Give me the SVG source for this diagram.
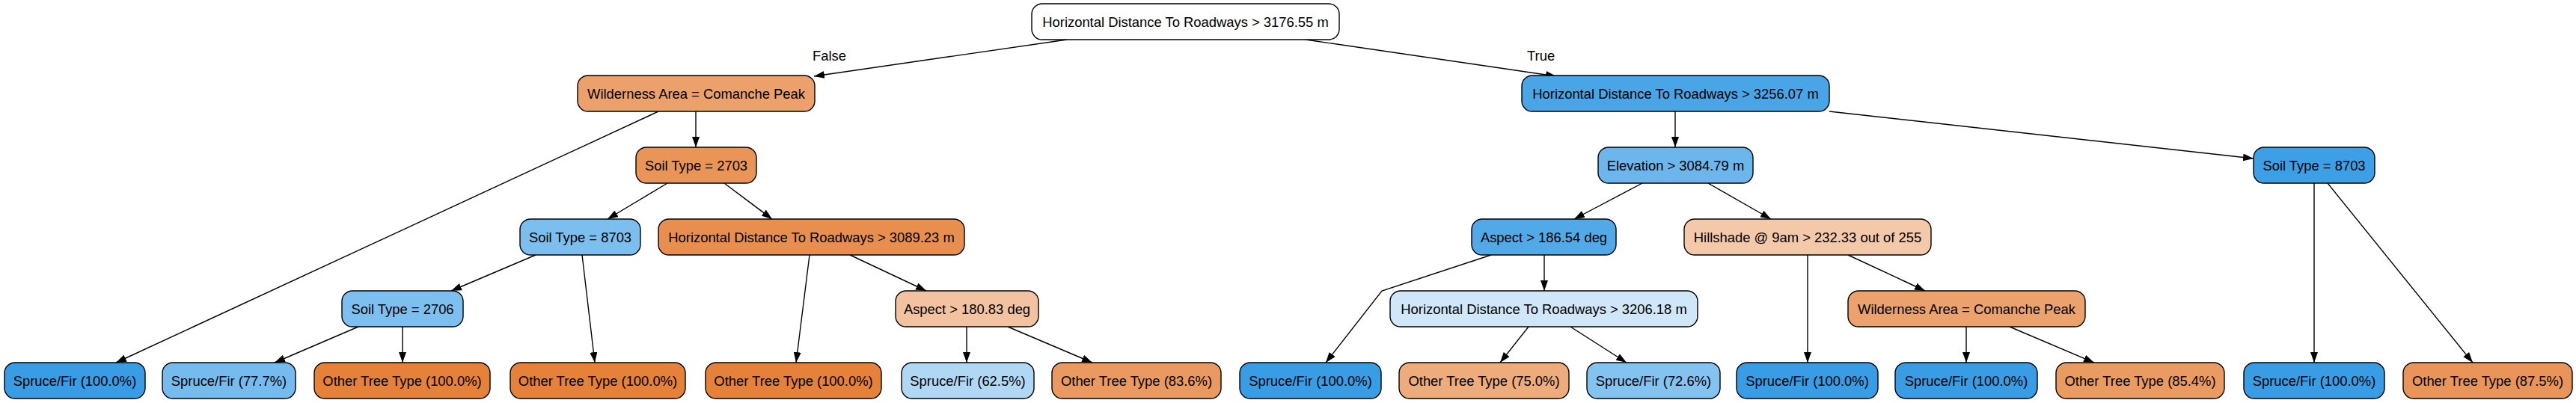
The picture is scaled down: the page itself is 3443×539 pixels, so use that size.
<svg xmlns="http://www.w3.org/2000/svg" width="3443" height="539" viewBox="0 0 3443 539">
<style>
.n rect{stroke:#000;stroke-width:1.4}
.n text{font-family:"Liberation Sans",Arial,Helvetica,sans-serif;font-size:18.4px;fill:#000;text-anchor:middle}
.lbl{font-family:"Liberation Sans",Arial,Helvetica,sans-serif;font-size:18.4px;fill:#000}
#edges line,#edges polyline{stroke:#000;stroke-width:1.4;fill:none;marker-end:url(#ah)}
</style>
<defs>
<marker id="ah" viewBox="0 0 14 10" refX="14" refY="5" markerWidth="14" markerHeight="10" markerUnits="userSpaceOnUse" orient="auto">
<path d="M0,0 L14,5 L0,10 z" fill="#000"/>
</marker>
</defs>
<rect width="3443" height="539" fill="#fff"/>
<g id="edges">
<line x1="1426" y1="53" x2="1088" y2="102"/>
<line x1="1745" y1="53" x2="2080" y2="102"/>
<line x1="880" y1="149" x2="155" y2="485"/>
<line x1="930" y1="149" x2="930" y2="197"/>
<line x1="892" y1="245" x2="812" y2="293"/>
<line x1="968" y1="245" x2="1032" y2="293"/>
<line x1="716" y1="341" x2="603" y2="389"/>
<line x1="778" y1="341" x2="795" y2="485"/>
<line x1="479" y1="437" x2="367" y2="485"/>
<line x1="538" y1="437" x2="538" y2="485"/>
<line x1="1082" y1="341" x2="1064" y2="485"/>
<line x1="1136" y1="341" x2="1238" y2="389"/>
<line x1="1292" y1="437" x2="1292" y2="485"/>
<line x1="1347" y1="437" x2="1460" y2="485"/>
<line x1="2239" y1="149" x2="2239" y2="197"/>
<line x1="2445" y1="149" x2="3012" y2="212"/>
<line x1="2195" y1="245" x2="2104" y2="293"/>
<line x1="2283" y1="245" x2="2367" y2="293"/>
<polyline points="1993,341 1847,389 1772,485"/>
<line x1="2064" y1="341" x2="2064" y2="389"/>
<line x1="2043" y1="437" x2="2005" y2="485"/>
<line x1="2099" y1="437" x2="2174" y2="485"/>
<line x1="2416" y1="341" x2="2416" y2="485"/>
<line x1="2470" y1="341" x2="2573" y2="389"/>
<line x1="2628" y1="437" x2="2628" y2="485"/>
<line x1="2686" y1="437" x2="2799" y2="485"/>
<line x1="3093" y1="245" x2="3093" y2="485"/>
<line x1="3111" y1="245" x2="3305" y2="485"/>
<text class="lbl" x="1086" y="81">False</text>
<text class="lbl" x="2041" y="81">True</text>
</g>
<g id="root" class="n"><rect x="1379" y="5" width="411" height="48" rx="14" fill="#ffffff"/><text x="1584.5" y="35.5">Horizontal Distance To Roadways &gt; 3176.55 m</text></g>
<g id="n1" class="n"><rect x="772" y="101" width="317" height="48" rx="14" fill="#eca16c"/><text x="930.5" y="131.5">Wilderness Area = Comanche Peak</text></g>
<g id="n2" class="n"><rect x="2034" y="101" width="411" height="48" rx="14" fill="#4aa5e7"/><text x="2239.5" y="131.5">Horizontal Distance To Roadways &gt; 3256.07 m</text></g>
<g id="n3" class="n"><rect x="850" y="197" width="161" height="48" rx="14" fill="#e99558"/><text x="930.5" y="227.5">Soil Type = 2703</text></g>
<g id="n4" class="n"><rect x="2136" y="197" width="207" height="48" rx="14" fill="#6cb6ec"/><text x="2239.5" y="227.5">Elevation &gt; 3084.79 m</text></g>
<g id="n5" class="n"><rect x="3012" y="197" width="162" height="48" rx="14" fill="#3d9fe5"/><text x="3093" y="227.5">Soil Type = 8703</text></g>
<g id="n6" class="n"><rect x="695" y="293" width="161" height="48" rx="14" fill="#7cbeee"/><text x="775.5" y="323.5">Soil Type = 8703</text></g>
<g id="n7" class="n"><rect x="880" y="293" width="409" height="48" rx="14" fill="#e88f4f"/><text x="1084.5" y="323.5">Horizontal Distance To Roadways &gt; 3089.23 m</text></g>
<g id="n8" class="n"><rect x="1967" y="293" width="193" height="48" rx="14" fill="#51a9e8"/><text x="2063.5" y="323.5">Aspect &gt; 186.54 deg</text></g>
<g id="n9" class="n"><rect x="2251" y="293" width="330" height="48" rx="14" fill="#f4c9aa"/><text x="2416" y="323.5">Hillshade @ 9am &gt; 232.33 out of 255</text></g>
<g id="n10" class="n"><rect x="457" y="389" width="162" height="48" rx="14" fill="#7dbfee"/><text x="538" y="419.5">Soil Type = 2706</text></g>
<g id="n11" class="n"><rect x="1197" y="389" width="191" height="48" rx="14" fill="#f3c3a1"/><text x="1292.5" y="419.5">Aspect &gt; 180.83 deg</text></g>
<g id="n12" class="n"><rect x="1858" y="389" width="411" height="48" rx="14" fill="#cfe7f9"/><text x="2063.5" y="419.5">Horizontal Distance To Roadways &gt; 3206.18 m</text></g>
<g id="n13" class="n"><rect x="2470" y="389" width="317" height="48" rx="14" fill="#eca26d"/><text x="2628.5" y="419.5">Wilderness Area = Comanche Peak</text></g>
<g id="L1" class="n"><rect x="6" y="485" width="188" height="48" rx="14" fill="#399de5"/><text x="100" y="515.5">Spruce/Fir (100.0%)</text></g>
<g id="L2" class="n"><rect x="217" y="485" width="178" height="48" rx="14" fill="#76bbed"/><text x="306" y="515.5">Spruce/Fir (77.7%)</text></g>
<g id="L3" class="n"><rect x="420" y="485" width="235" height="48" rx="14" fill="#e58139"/><text x="537.5" y="515.5">Other Tree Type (100.0%)</text></g>
<g id="L4" class="n"><rect x="682" y="485" width="234" height="48" rx="14" fill="#e58139"/><text x="799" y="515.5">Other Tree Type (100.0%)</text></g>
<g id="L5" class="n"><rect x="943" y="485" width="235" height="48" rx="14" fill="#e58139"/><text x="1060.5" y="515.5">Other Tree Type (100.0%)</text></g>
<g id="L6" class="n"><rect x="1205" y="485" width="177" height="48" rx="14" fill="#b0d8f5"/><text x="1293.5" y="515.5">Spruce/Fir (62.5%)</text></g>
<g id="L7" class="n"><rect x="1406" y="485" width="226" height="48" rx="14" fill="#ea9a60"/><text x="1519" y="515.5">Other Tree Type (83.6%)</text></g>
<g id="L8" class="n"><rect x="1657" y="485" width="189" height="48" rx="14" fill="#399de5"/><text x="1751.5" y="515.5">Spruce/Fir (100.0%)</text></g>
<g id="L9" class="n"><rect x="1870" y="485" width="227" height="48" rx="14" fill="#eeab7b"/><text x="1983.5" y="515.5">Other Tree Type (75.0%)</text></g>
<g id="L10" class="n"><rect x="2121" y="485" width="178" height="48" rx="14" fill="#84c2ef"/><text x="2210" y="515.5">Spruce/Fir (72.6%)</text></g>
<g id="L11" class="n"><rect x="2321" y="485" width="189" height="48" rx="14" fill="#399de5"/><text x="2415.5" y="515.5">Spruce/Fir (100.0%)</text></g>
<g id="L12" class="n"><rect x="2533" y="485" width="190" height="48" rx="14" fill="#399de5"/><text x="2628" y="515.5">Spruce/Fir (100.0%)</text></g>
<g id="L13" class="n"><rect x="2748" y="485" width="225" height="48" rx="14" fill="#ea9b62"/><text x="2860.5" y="515.5">Other Tree Type (85.4%)</text></g>
<g id="L14" class="n"><rect x="2999" y="485" width="188" height="48" rx="14" fill="#399de5"/><text x="3093" y="515.5">Spruce/Fir (100.0%)</text></g>
<g id="L15" class="n"><rect x="3212" y="485" width="226" height="48" rx="14" fill="#e99559"/><text x="3325" y="515.5">Other Tree Type (87.5%)</text></g>
</svg>
